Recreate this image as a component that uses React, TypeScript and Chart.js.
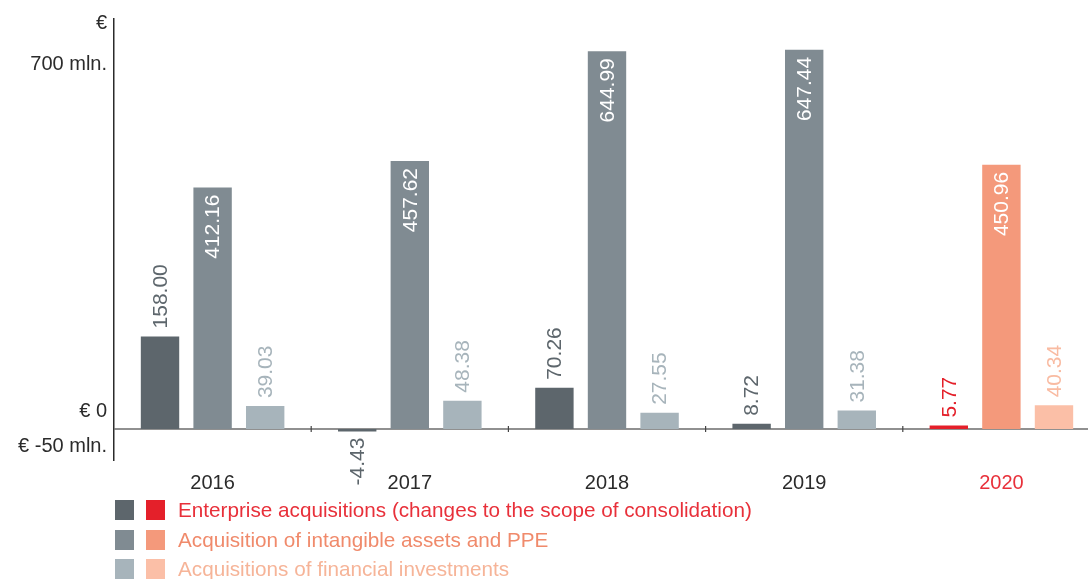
import React, { useEffect, useRef } from "react";
import { Chart, registerables } from "chart.js";

Chart.register(...registerables);

const categories = ["2016", "2017", "2018", "2019", "2020"];
const enterpriseAcq = [158.0, -4.43, 70.26, 8.72, 5.77];
const intangibleAcq = [412.16, 457.62, 644.99, 647.44, 450.96];
const financialAcq = [39.03, 48.38, 27.55, 31.38, 40.34];

const yTickValues = [-30.6, 30.6, 622, 692];
const yTickLabels = ["€ -50 mln.", "€ 0", "700 mln.", "€"];

const legendLabels = [
  "Enterprise acquisitions (changes to the scope of consolidation)",
  "Acquisition of intangible assets and PPE",
  "Acquisitions of financial investments",
];

const FONT = "'Liberation Sans', Arial, Helvetica, sans-serif";

const greyColors = ["#5d666c", "#808b92", "#a7b4bb"];
const redColors = ["#e4202a", "#f4997b", "#fbbfa7"];
const labelColorsGrey = ["#5d666c", "#ffffff", "#a7b4bb"];
const labelColorsRed = ["#e4202a", "#ffffff", "#f9bba2"];
const legendTextColors = ["#e8303a", "#f08a6b", "#f6b498"];

const colorsFor = (i: number) =>
  categories.map((_, j) => (j === categories.length - 1 ? redColors[i] : greyColors[i]));

const barLabelPlugin = {
  id: "barLabels",
  afterDatasetsDraw(chart: any) {
    const ctx = chart.ctx;
    chart.data.datasets.forEach((ds: any, di: number) => {
      const meta = chart.getDatasetMeta(di);
      meta.data.forEach((bar: any, j: number) => {
        const v = ds.data[j];
        const last = j === categories.length - 1;
        const color = last ? labelColorsRed[di] : labelColorsGrey[di];
        const text = v.toFixed(2);
        ctx.save();
        ctx.font = `21px ${FONT}`;
        ctx.fillStyle = color;
        ctx.textBaseline = "middle";
        if (di === 1) {
          ctx.translate(bar.x + 1, bar.y + 7);
          ctx.rotate(-Math.PI / 2);
          ctx.textAlign = "right";
        } else if (v < 0) {
          ctx.translate(bar.x + 1, bar.y + 6);
          ctx.rotate(-Math.PI / 2);
          ctx.textAlign = "right";
        } else {
          ctx.translate(bar.x + 1, bar.y - 8);
          ctx.rotate(-Math.PI / 2);
          ctx.textAlign = "left";
        }
        ctx.fillText(text, 0, 0);
        ctx.restore();
      });
    });
  },
};

const zeroLinePlugin = {
  id: "zeroLine",
  beforeDatasetsDraw(chart: any) {
    const ctx = chart.ctx;
    const y = chart.scales.y.getPixelForValue(0);
    const xs = chart.scales.x;
    const area = chart.chartArea;
    ctx.save();
    ctx.strokeStyle = "#6b6b6b";
    ctx.lineWidth = 1.5;
    ctx.beginPath();
    ctx.moveTo(area.left, y);
    ctx.lineTo(area.right, y);
    ctx.stroke();
    const step = (area.right - area.left) / categories.length;
    ctx.lineWidth = 1.2;
    ctx.strokeStyle = "#444";
    for (let i = 1; i < categories.length; i++) {
      const x = xs.getPixelForValue(i) - step / 2;
      ctx.beginPath();
      ctx.moveTo(x, y - 3);
      ctx.lineTo(x, y + 3);
      ctx.stroke();
    }
    ctx.restore();
  },
};

function ChartView() {
  const ref = useRef<HTMLCanvasElement | null>(null);
  useEffect(() => {
    if (!ref.current) return;
    const chart = new Chart(ref.current, {
      type: "bar",
      data: {
        labels: categories,
        datasets: [
          { label: legendLabels[0], data: enterpriseAcq, backgroundColor: colorsFor(0) },
          { label: legendLabels[1], data: intangibleAcq, backgroundColor: colorsFor(1) },
          { label: legendLabels[2], data: financialAcq, backgroundColor: colorsFor(2) },
        ],
      },
      options: {
        animation: false,
        responsive: false,
        maintainAspectRatio: false,
        layout: { padding: { top: 17, left: 0, right: 0, bottom: 0 } },
        datasets: { bar: { categoryPercentage: 0.8, barPercentage: 0.73 } },
        plugins: { legend: { display: false }, tooltip: { enabled: false } },
        scales: {
          x: {
            grid: { display: false, drawTicks: false },
            border: { display: false },
            ticks: {
              padding: 11,
              maxRotation: 0,
              autoSkip: false,
              font: { family: FONT, size: 20 },
              color: (c: any) => (c.index === categories.length - 1 ? "#e8303a" : "#2b2b2b"),
            },
            afterFit: (s: any) => {
              s.height = 119;
            },
          },
          y: {
            min: -53,
            max: 700,
            grid: { display: false, drawTicks: false },
            border: { display: true, color: "#2b2b2b", width: 1.5 },
            afterFit: (s: any) => {
              s.width = 114;
            },
            afterBuildTicks: (s: any) => {
              s.ticks = yTickValues.map((v) => ({ value: v }));
            },
            ticks: {
              padding: 7,
              font: { family: FONT, size: 20 },
              color: "#2b2b2b",
              callback: (v: any) => {
                const i = yTickValues.indexOf(Number(v));
                return i >= 0 ? yTickLabels[i] : "";
              },
            },
          },
        },
      },
      plugins: [zeroLinePlugin, barLabelPlugin],
    });
    return () => chart.destroy();
  }, []);
  return (
    <canvas
      ref={ref}
      width={1100}
      height={579}
      style={{ position: "absolute", left: 0, top: 0, width: 1100, height: 579 }}
    />
  );
}

export default function App() {
  const rowTops = [500, 530, 559];
  return (
    <div
      style={{
        position: "fixed",
        left: 0,
        top: 0,
        width: 1088,
        height: 579,
        overflow: "hidden",
        background: "#fff",
        fontFamily: FONT,
      }}
    >
      <ChartView />
      {legendLabels.map((t, i) => (
        <div key={t} style={{ position: "absolute", left: 115, top: rowTops[i], height: 20, display: "flex", alignItems: "center" }}>
          <span style={{ width: 19, height: 20, background: greyColors[i], display: "inline-block" }} />
          <span style={{ width: 19, height: 20, background: redColors[i], display: "inline-block", marginLeft: 12 }} />
          <span style={{ marginLeft: 13, fontSize: 20.7, color: legendTextColors[i], whiteSpace: "nowrap", lineHeight: "20px" }}>{t}</span>
        </div>
      ))}
    </div>
  );
}
